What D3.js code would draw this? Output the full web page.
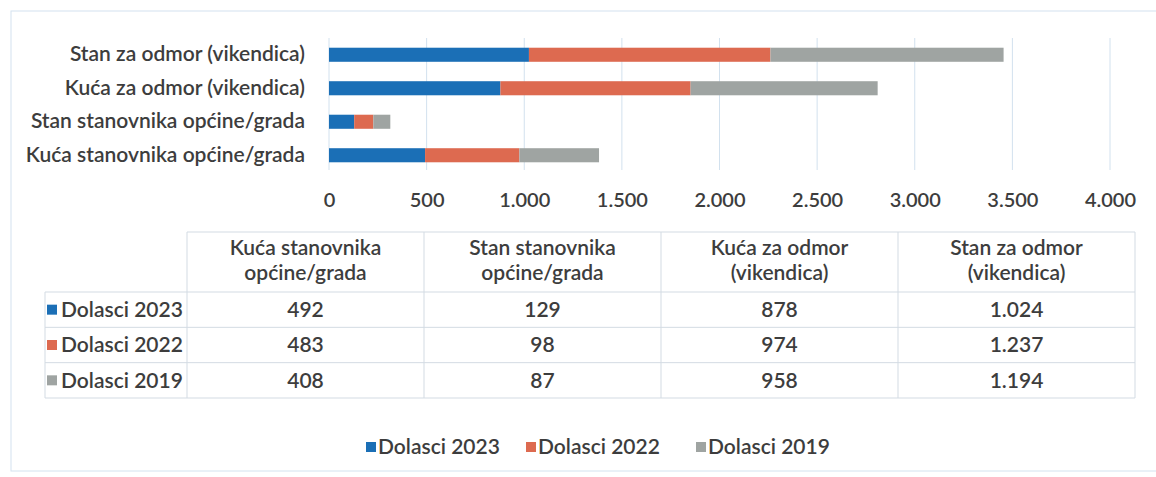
<!DOCTYPE html>
<html>
<head>
<meta charset="utf-8">
<script src="https://cdn.jsdelivr.net/npm/d3@7"></script>
<style>
    body { margin: 0; background: #fff; }
    svg text { font-family: Lato, "Open Sans", sans-serif; fill: #3d3d3d; font-weight: 600; }
</style>
</head>
<body>
<div id="chart-area"></div>
<script>
// Categories, bottom to top in the bar chart / left to right in the table
const categories = [
    "Kuća stanovnika općine/grada",
    "Stan stanovnika općine/grada",
    "Kuća za odmor (vikendica)",
    "Stan za odmor (vikendica)"
];
// Table header lines for each category
const headerLines = [
    ["Kuća stanovnika", "općine/grada"],
    ["Stan stanovnika", "općine/grada"],
    ["Kuća za odmor", "(vikendica)"],
    ["Stan za odmor", "(vikendica)"]
];
const seriesNames = ["Dolasci 2023", "Dolasci 2022", "Dolasci 2019"];
const dolasci2023 = [492, 129, 878, 1024];
const dolasci2022 = [483, 98, 974, 1237];
const dolasci2019 = [408, 87, 958, 1194];
const tickValues = [0, 500, 1000, 1500, 2000, 2500, 3000, 3500, 4000];
const colors = ["#1b6fb6", "#dd6a50", "#9fa4a2"];

const seriesValues = [dolasci2023, dolasci2022, dolasci2019];

// Croatian number format: 1.024
const locale = d3.formatLocale({ decimal: ",", thousands: ".", grouping: [3], currency: ["", " €"] });
const fmt = locale.format(",");

function drawChart() {
    const width = 1156, height = 477;
    const fontSize = "21px";

    const svg = d3.select("#chart-area")
        .append("svg")
        .attr("width", width)
        .attr("height", height);

    // faint chart border (scan)
    svg.append("rect")
        .attr("x", 11).attr("y", 11)
        .attr("width", 1170).attr("height", 460)
        .attr("fill", "none")
        .attr("stroke", "#d3e2ef")
        .attr("stroke-width", 1);

    // rows for the stack
    const rows = categories.map((c, i) => {
        const row = { category: c };
        seriesNames.forEach((s, j) => { row[s] = seriesValues[j][i]; });
        return row;
    });

    const x = d3.scaleLinear()
        .domain([0, 4000])
        .range([329, 1110]);

    const y = d3.scaleBand()
        .domain(categories.slice().reverse())
        .range([38, 172])
        .paddingInner(0.58)
        .paddingOuter(0.29);

    const color = d3.scaleOrdinal()
        .domain(seriesNames)
        .range(colors);

    // vertical gridlines
    svg.append("g")
        .selectAll("line")
        .data(tickValues)
        .enter()
        .append("line")
        .attr("x1", d => x(d))
        .attr("x2", d => x(d))
        .attr("y1", 38)
        .attr("y2", 170)
        .attr("stroke", "#d2e1ee")
        .attr("stroke-width", 1);

    // stacked bars
    const stacked = d3.stack().keys(seriesNames)(rows);
    svg.append("g")
        .selectAll("g")
        .data(stacked)
        .enter()
        .append("g")
        .attr("fill", d => color(d.key))
        .selectAll("rect")
        .data(d => d)
        .enter()
        .append("rect")
        .attr("x", d => x(d[0]))
        .attr("y", d => y(d.data.category))
        .attr("width", d => x(d[1]) - x(d[0]))
        .attr("height", y.bandwidth());

    // category axis labels
    svg.append("g")
        .attr("transform", "translate(329,0)")
        .call(d3.axisLeft(y).tickSize(0).tickPadding(24))
        .call(g => g.select(".domain").remove())
        .selectAll("text")
        .style("font-family", "Lato, sans-serif")
        .style("font-size", fontSize)
        .style("font-weight", 600)
        .attr("fill", "#3d3d3d");

    // value axis labels
    svg.append("g")
        .attr("transform", "translate(0,193)")
        .call(d3.axisBottom(x).tickValues(tickValues).tickFormat(fmt).tickSize(0).tickPadding(0))
        .call(g => g.select(".domain").remove())
        .selectAll("text")
        .style("font-family", "Lato, sans-serif")
        .style("font-size", "20px")
        .style("font-weight", 600)
        .attr("fill", "#3d3d3d");

    // ---- data table ----
    const col = d3.scaleBand()
        .domain(categories)
        .range([187, 1135]);

    const rowY = d3.scaleBand()
        .domain(seriesNames)
        .range([292, 398]);

    const table = svg.append("g").attr("class", "data-table");
    const lineColor = "#d3dbe3";

    // header top line
    table.append("line")
        .attr("x1", 187).attr("x2", 1135)
        .attr("y1", 232).attr("y2", 232)
        .attr("stroke", lineColor);

    // horizontal row lines
    table.selectAll(".hline")
        .data([292].concat(seriesNames.map(s => rowY(s) + rowY.bandwidth())))
        .enter()
        .append("line")
        .attr("class", "hline")
        .attr("x1", 45).attr("x2", 1135)
        .attr("y1", d => d).attr("y2", d => d)
        .attr("stroke", lineColor);

    // vertical column lines
    table.selectAll(".vline")
        .data(categories.map(c => col(c)).concat([col.range()[1]]))
        .enter()
        .append("line")
        .attr("class", "vline")
        .attr("x1", d => d).attr("x2", d => d)
        .attr("y1", 232).attr("y2", 398)
        .attr("stroke", lineColor);

    // left edge of row-header column
    table.append("line")
        .attr("x1", 45).attr("x2", 45)
        .attr("y1", 292).attr("y2", 398)
        .attr("stroke", lineColor);

    // headers
    categories.forEach((c, i) => {
        const t = table.append("text")
            .attr("x", col(c) + col.bandwidth() / 2)
            .attr("y", 255)
            .attr("text-anchor", "middle")
            .style("font-size", fontSize);
        headerLines[i].forEach((ln, k) => {
            t.append("tspan")
                .attr("x", col(c) + col.bandwidth() / 2)
                .attr("dy", k === 0 ? 0 : 25)
                .text(ln);
        });
    });

    // row headers with legend keys
    seriesNames.forEach((s, j) => {
        const cy = rowY(s) + rowY.bandwidth() / 2;
        table.append("rect")
            .attr("x", 47).attr("y", cy - 5)
            .attr("width", 10).attr("height", 10)
            .attr("fill", color(s));
        table.append("text")
            .attr("x", 61).attr("y", cy)
            .attr("dy", "0.35em")
            .style("font-size", fontSize)
            .text(s);

        categories.forEach((c, i) => {
            table.append("text")
                .attr("x", col(c) + col.bandwidth() / 2)
                .attr("y", cy)
                .attr("dy", "0.35em")
                .attr("text-anchor", "middle")
                .style("font-size", fontSize)
                .text(fmt(seriesValues[j][i]));
        });
    });

    // ---- bottom legend ----
    const legendX = [366, 526, 696];
    const legend = svg.append("g").attr("class", "legend");
    seriesNames.forEach((s, j) => {
        legend.append("rect")
            .attr("x", legendX[j]).attr("y", 442)
            .attr("width", 10).attr("height", 10)
            .attr("fill", color(s));
        legend.append("text")
            .attr("x", legendX[j] + 12).attr("y", 447)
            .attr("dy", "0.35em")
            .style("font-size", fontSize)
            .text(s);
    });
}

drawChart();
</script>
</body>
</html>
